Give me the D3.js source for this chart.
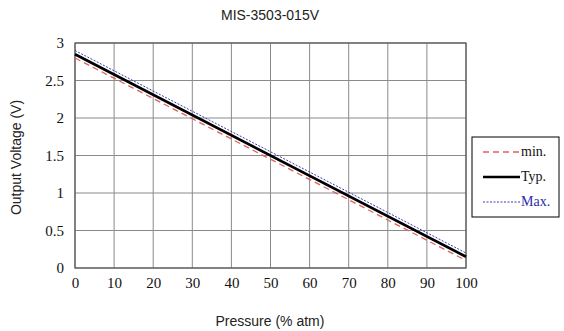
<!DOCTYPE html>
<html>
<head>
<meta charset="utf-8">
<script src="https://cdn.jsdelivr.net/npm/d3@7"></script>
<style>
  body { margin: 0; background: #fff; }
  svg { display: block; }
</style>
</head>
<body>
<div id="chart"></div>
<script>
// Data
const pressure = [0, 100];
const vMin = [2.80, 0.10];
const vTyp = [2.85, 0.15];
const vMax = [2.90, 0.20];
const xTicks = [0, 10, 20, 30, 40, 50, 60, 70, 80, 90, 100];
const yTicks = [0, 0.5, 1, 1.5, 2, 2.5, 3];
const seriesNames = ['min.', 'Typ.', 'Max.'];

const width = 564;
const height = 331;
const marginTop = 43;
const marginLeft = 75;
const plotRight = 466;
const plotBottom = 268;

const serif = '"Liberation Serif", "Times New Roman", serif';
const sans = '"Liberation Sans", Arial, sans-serif';

const svg = d3.select('#chart')
	.append('svg')
	.attr('width', width)
	.attr('height', height)
	.attr('viewBox', [0, 0, width, height]);

const x = d3.scaleLinear().domain([0, 100]).range([marginLeft, plotRight]);
const y = d3.scaleLinear().domain([0, 3]).range([plotBottom, marginTop]);

// grid
svg.append('g')
	.selectAll('line')
	.data(xTicks)
	.join('line')
	.attr('x1', (d) => x(d)).attr('x2', (d) => x(d))
	.attr('y1', y(0)).attr('y2', y(3))
	.attr('stroke', '#8a8a8a')
	.attr('stroke-width', 1);

svg.append('g')
	.selectAll('line')
	.data(yTicks)
	.join('line')
	.attr('x1', x(0)).attr('x2', x(100))
	.attr('y1', (d) => y(d)).attr('y2', (d) => y(d))
	.attr('stroke', '#8a8a8a')
	.attr('stroke-width', 1);

// plot border
svg.append('rect')
	.attr('x', x(0)).attr('y', y(3))
	.attr('width', x(100) - x(0)).attr('height', y(0) - y(3))
	.attr('fill', 'none')
	.attr('stroke', '#555')
	.attr('stroke-width', 1.2);

// axes (labels only)
const xAxis = svg.append('g')
	.attr('transform', 'translate(0,' + plotBottom + ')')
	.call(d3.axisBottom(x).tickValues(xTicks).tickSize(0).tickPadding(9).tickFormat(d3.format('d')));
xAxis.select('.domain').remove();
xAxis.selectAll('text').attr('font-family', serif).attr('font-size', 15).attr('fill', '#111');

const yAxis = svg.append('g')
	.attr('transform', 'translate(' + marginLeft + ',0)')
	.call(d3.axisLeft(y).tickValues(yTicks).tickSize(0).tickPadding(11).tickFormat((d) => d));
yAxis.select('.domain').remove();
yAxis.selectAll('text').attr('font-family', serif).attr('font-size', 15).attr('fill', '#111');

// series
const line = d3.line().x((d) => x(d[0])).y((d) => y(d[1]));
const series = [
	{ name: seriesNames[0], values: vMin, color: '#e06060', width: 1.3, dash: '6,4' },
	{ name: seriesNames[1], values: vTyp, color: '#000', width: 2.6, dash: null },
	{ name: seriesNames[2], values: vMax, color: '#3a3ac0', width: 1, dash: '2,1.5' }
];

svg.append('g')
	.selectAll('path')
	.data(series)
	.join('path')
	.attr('d', (s) => line(pressure.map((p, i) => [p, s.values[i]])))
	.attr('fill', 'none')
	.attr('stroke', (s) => s.color)
	.attr('stroke-width', (s) => s.width)
	.attr('stroke-dasharray', (s) => s.dash);

// titles
svg.append('text')
	.attr('x', 270).attr('y', 20)
	.attr('text-anchor', 'middle')
	.attr('font-family', sans).attr('font-size', 14).attr('fill', '#222')
	.text('MIS-3503-015V');

svg.append('text')
	.attr('x', 270).attr('y', 326)
	.attr('text-anchor', 'middle')
	.attr('font-family', sans).attr('font-size', 14).attr('fill', '#222')
	.text('Pressure (% atm)');

svg.append('text')
	.attr('transform', 'translate(21,' + (y(1.5) + 2) + ') rotate(-90)')
	.attr('text-anchor', 'middle')
	.attr('font-family', sans).attr('font-size', 14).attr('fill', '#222')
	.text('Output Voltage (V)');

// legend
const legend = svg.append('g').attr('transform', 'translate(472,137)');
legend.append('rect')
	.attr('width', 87).attr('height', 80)
	.attr('fill', '#fff')
	.attr('stroke', '#000')
	.attr('stroke-width', 1);

const items = legend.selectAll('g')
	.data(series)
	.join('g')
	.attr('transform', (s, i) => 'translate(0,' + (15 + i * 25) + ')');
items.append('line')
	.attr('x1', 11).attr('x2', 48)
	.attr('stroke', (s) => s.color)
	.attr('stroke-width', (s) => s.width)
	.attr('stroke-dasharray', (s) => s.dash);
items.append('text')
	.attr('x', 49).attr('y', 4)
	.attr('font-family', serif).attr('font-size', 14)
	.attr('fill', (s) => (s.name === 'Max.' ? '#2a2ab0' : '#111'))
	.text((s) => s.name);
</script>
</body>
</html>
